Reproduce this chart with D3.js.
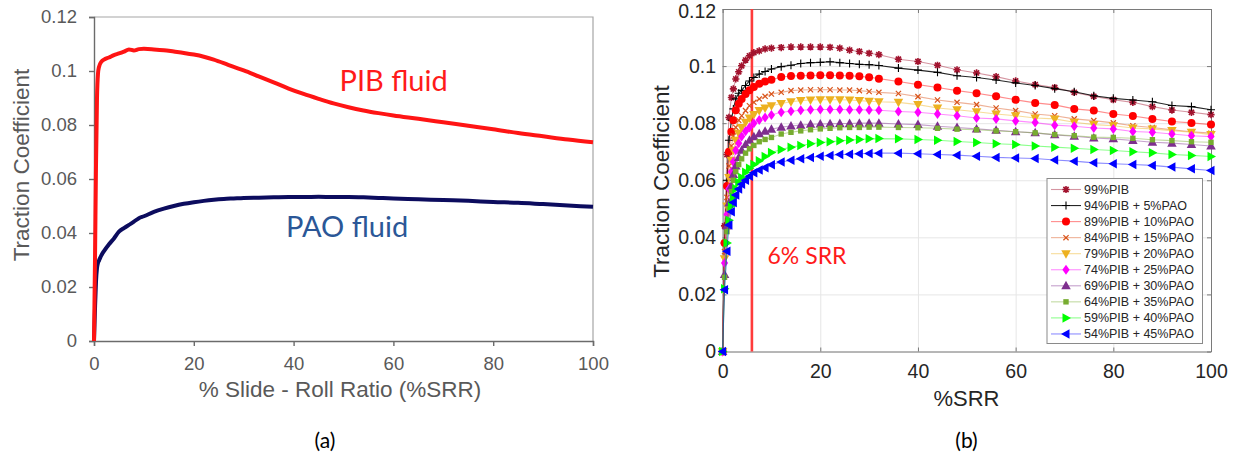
<!DOCTYPE html>
<html>
<head>
<meta charset="utf-8">
<script src="https://cdn.jsdelivr.net/npm/d3@7"></script>
<style>
  body { margin: 0; background: #fff; }
  svg { display: block; }
</style>
</head>
<body>
<svg id="fig" width="1237" height="456"></svg>
<script>
// ---------- Panel (a): neat fluids ----------
const srrA = [0, 0.2, 0.4, 0.6, 0.8, 1, 1.5, 2, 3, 4, 5, 6, 7, 8, 9, 10,
  12, 14, 16, 18, 20, 22, 24, 26, 28, 30, 33, 36, 39, 42, 45, 48, 51, 54, 57,
  60, 65, 70, 75, 80, 85, 90, 95, 100];
const pibFluid = [0, 0.03, 0.065, 0.09, 0.099, 0.1015, 0.1035, 0.1042, 0.105, 0.1059, 0.1065, 0.1072, 0.108, 0.1076, 0.1081, 0.1082,
  0.108, 0.1077, 0.1072, 0.1067, 0.1061, 0.1053, 0.1042, 0.1029, 0.1015, 0.1002, 0.098, 0.0958, 0.0935, 0.0915, 0.0897, 0.088, 0.0866, 0.0854, 0.0844,
  0.0835, 0.0823, 0.081, 0.0797, 0.0784, 0.077, 0.0758, 0.0746, 0.0736];
const paoFluid = [0, 0.012, 0.022, 0.027, 0.029, 0.0298, 0.0318, 0.0333, 0.0358, 0.038, 0.0405, 0.0418, 0.043, 0.0442, 0.0455, 0.0462,
  0.0478, 0.049, 0.05, 0.0508, 0.0514, 0.0519, 0.0523, 0.0526, 0.0528, 0.053, 0.0531, 0.0532, 0.0533, 0.0533, 0.0534, 0.0533, 0.0533, 0.0532, 0.053,
  0.0528, 0.0525, 0.0522, 0.0519, 0.0515, 0.0512, 0.0507, 0.0502, 0.0497];

// ---------- Panel (b): PIB/PAO blends ----------
const srrB = [0, 0.4, 0.9, 1.3, 1.8, 2.2, 2.7, 3.3, 3.9, 4.7, 5.5, 6.4, 7.5, 8.7, 10,
  12, 14, 16, 18, 20, 22, 24, 26, 28, 30, 32,
  36, 40, 44, 48, 52, 56, 60, 64, 68, 72, 76, 80, 84, 88, 92, 96, 100];
const pib99 = [0, 0.044, 0.069, 0.082, 0.089, 0.092, 0.0955, 0.098, 0.1001, 0.1021, 0.1036, 0.1047, 0.1053, 0.106, 0.1063,
  0.1065, 0.1067, 0.1067, 0.1067, 0.1067, 0.1066, 0.1063, 0.1056, 0.1051, 0.1045, 0.104,
  0.1024, 0.1016, 0.1003, 0.0987, 0.0976, 0.0963, 0.0948, 0.0935, 0.0925, 0.0908, 0.0894, 0.0882, 0.0873, 0.0858, 0.0846, 0.0838, 0.083];
const pib94 = [0, 0.038, 0.06, 0.074, 0.081, 0.085, 0.0885, 0.0905, 0.0915, 0.0932, 0.0948, 0.096, 0.0972, 0.0981, 0.099,
  0.0998, 0.1003, 0.1009, 0.1012, 0.1013, 0.1015, 0.1012, 0.1009, 0.1006, 0.1005, 0.1002,
  0.0993, 0.0986, 0.0978, 0.0966, 0.096, 0.0951, 0.0941, 0.0932, 0.0921, 0.091, 0.0896, 0.0887, 0.0881, 0.0875, 0.0862, 0.0858, 0.0847];
const pib89 = [0, 0.038, 0.058, 0.07, 0.077, 0.081, 0.0845, 0.0868, 0.0885, 0.0902, 0.0915, 0.0927, 0.0938, 0.0946, 0.0952,
  0.0962, 0.0965, 0.0966, 0.0967, 0.0968, 0.0968, 0.0967, 0.0966, 0.0964, 0.0961, 0.0956,
  0.0946, 0.0935, 0.0925, 0.0914, 0.0905, 0.0894, 0.0882, 0.0871, 0.0864, 0.085, 0.0844, 0.0832, 0.0825, 0.0815, 0.0806, 0.0801, 0.0795];
const pib84 = [0, 0.035, 0.054, 0.065, 0.072, 0.0755, 0.0785, 0.081, 0.0826, 0.0844, 0.0861, 0.0873, 0.0885, 0.0894, 0.0902,
  0.0908, 0.0914, 0.0916, 0.0917, 0.0917, 0.0917, 0.0916, 0.0916, 0.0914, 0.0911, 0.0908,
  0.0904, 0.0893, 0.0881, 0.0873, 0.0865, 0.0853, 0.0844, 0.0832, 0.0826, 0.0815, 0.0809, 0.0801, 0.0791, 0.0785, 0.0777, 0.077, 0.0765];
const pib79 = [0, 0.0325, 0.051, 0.061, 0.067, 0.0705, 0.074, 0.0765, 0.0785, 0.0803, 0.0818, 0.083, 0.0844, 0.0853, 0.0861,
  0.0869, 0.0875, 0.0879, 0.0881, 0.0882, 0.0882, 0.0882, 0.0881, 0.0879, 0.0877, 0.0875,
  0.0873, 0.0865, 0.0853, 0.0847, 0.084, 0.0832, 0.0826, 0.0818, 0.0815, 0.0803, 0.0795, 0.0791, 0.0783, 0.078, 0.0774, 0.0768, 0.076];
const pib74 = [0, 0.031, 0.048, 0.057, 0.063, 0.0665, 0.0705, 0.073, 0.0753, 0.0772, 0.0785, 0.08, 0.0811, 0.082, 0.0829,
  0.0838, 0.0842, 0.0845, 0.0847, 0.0848, 0.0848, 0.0848, 0.0847, 0.0847, 0.0846, 0.0845,
  0.0841, 0.0838, 0.0832, 0.0826, 0.0818, 0.0815, 0.0808, 0.0802, 0.0793, 0.0789, 0.0783, 0.078, 0.0771, 0.0768, 0.0762, 0.0756, 0.0753];
const pib69 = [0, 0.027, 0.044, 0.052, 0.058, 0.062, 0.065, 0.068, 0.0705, 0.0725, 0.074, 0.0752, 0.0763, 0.0772, 0.0779,
  0.0786, 0.079, 0.0793, 0.0796, 0.0797, 0.0798, 0.0799, 0.0799, 0.08, 0.08, 0.08,
  0.0797, 0.0795, 0.0789, 0.0785, 0.078, 0.0775, 0.077, 0.0766, 0.0759, 0.0754, 0.0748, 0.0745, 0.0739, 0.0733, 0.073, 0.0725, 0.072];
const pib64 = [0, 0.026, 0.042, 0.05, 0.056, 0.06, 0.063, 0.0655, 0.0675, 0.0695, 0.071, 0.0722, 0.0735, 0.0743, 0.075,
  0.0762, 0.0768, 0.0773, 0.0777, 0.078, 0.0782, 0.0784, 0.0785, 0.0785, 0.0786, 0.0786,
  0.0785, 0.0784, 0.0782, 0.0779, 0.0777, 0.0773, 0.077, 0.0766, 0.076, 0.0756, 0.0751, 0.075, 0.0747, 0.0742, 0.0739, 0.0735, 0.0733];
const pib59 = [0, 0.022, 0.038, 0.046, 0.051, 0.054, 0.057, 0.0592, 0.061, 0.0628, 0.0642, 0.0655, 0.0668, 0.0683, 0.0697,
  0.0708, 0.0716, 0.0722, 0.0728, 0.0732, 0.0735, 0.0738, 0.0741, 0.0743, 0.0745, 0.0746,
  0.0745, 0.0743, 0.074, 0.0736, 0.0732, 0.0728, 0.0725, 0.072, 0.0716, 0.0712, 0.0708, 0.0704, 0.07, 0.0696, 0.069, 0.0687, 0.0683];
const pib54 = [0, 0.0216, 0.0351, 0.0443, 0.049, 0.0522, 0.0548, 0.0569, 0.0586, 0.06, 0.0614, 0.0626, 0.0636, 0.0644, 0.0654,
  0.0664, 0.067, 0.0675, 0.068, 0.0684, 0.0687, 0.069, 0.0691, 0.0693, 0.0694, 0.0695,
  0.0695, 0.0693, 0.069, 0.0688, 0.0684, 0.068, 0.0678, 0.0676, 0.0671, 0.0667, 0.0661, 0.0658, 0.0655, 0.0652, 0.0646, 0.064, 0.0634];

const blendNames = ["99%PIB", "94%PIB + 5%PAO", "89%PIB + 10%PAO", "84%PIB + 15%PAO", "79%PIB + 20%PAO",
  "74%PIB + 25%PAO", "69%PIB + 30%PAO", "64%PIB + 35%PAO", "59%PIB + 40%PAO", "54%PIB + 45%PAO"];
const blendValues = [pib99, pib94, pib89, pib84, pib79, pib74, pib69, pib64, pib59, pib54];
const blendMarkers = ["asterisk", "plus", "circle", "cross", "triDown", "diamond", "triUp", "square", "triRight", "triLeft"];
const blendColors = ["#a2142f", "#000000", "#ff0000", "#d95319", "#edb120", "#ff00ff", "#7e2f8e", "#77ac30", "#00ff00", "#0000ff"];

const yTicks = [0, 0.02, 0.04, 0.06, 0.08, 0.1, 0.12];
const yTickLabels = ["0", "0.02", "0.04", "0.06", "0.08", "0.1", "0.12"];
const xTicks = [0, 20, 40, 60, 80, 100];
const xTickLabels = ["0", "20", "40", "60", "80", "100"];
const markedSrr = 6;

const svg = d3.select("#fig");
const sans = "'Liberation Sans', Arial, sans-serif";
const humanist = "Lato, 'Open Sans', sans-serif";

// ================= Panel (a) =================
const A = { left: 94, right: 593, top: 17, bottom: 341 };
const xA = d3.scaleLinear().domain([0, 100]).range([A.left, A.right]);
const yA = d3.scaleLinear().domain([0, 0.12]).range([A.bottom, A.top]);
const gA = svg.append("g");

// light frame on top and right
gA.append("path")
  .attr("d", `M${A.left},${A.top}H${A.right}V${A.bottom}`)
  .attr("fill", "none").attr("stroke", "#a6a6a6").attr("stroke-width", 1.2);

const axA_y = gA.append("g").attr("transform", `translate(${A.left},0)`)
  .call(d3.axisLeft(yA).tickValues(yTicks).tickFormat((d, i) => yTickLabels[i]).tickSize(5).tickPadding(12));
const axA_x = gA.append("g").attr("transform", `translate(0,${A.bottom})`)
  .call(d3.axisBottom(xA).tickValues(xTicks).tickFormat((d, i) => xTickLabels[i]).tickSize(5).tickPadding(11));
[axA_y, axA_x].forEach(ax => {
  ax.selectAll("path, line").attr("stroke", "#6b6b6b").attr("stroke-width", 1.4);
  ax.selectAll("text").attr("fill", "#595959").style("font-family", sans).style("font-size", "18.5px");
});

const lineA = d3.line().x((d, i) => xA(srrA[i])).y(d => yA(d)).curve(d3.curveMonotoneX);
gA.append("path").datum(paoFluid).attr("d", lineA)
  .attr("fill", "none").attr("stroke", "#0c0c5e").attr("stroke-width", 4).attr("stroke-linejoin", "round");
gA.append("path").datum(pibFluid).attr("d", lineA)
  .attr("fill", "none").attr("stroke", "#ff1414").attr("stroke-width", 4).attr("stroke-linejoin", "round");

gA.append("text").attr("x", 340).attr("y", 397).attr("text-anchor", "middle")
  .attr("fill", "#595959").style("font-family", sans).style("font-size", "22.5px")
  .text("% Slide - Roll Ratio (%SRR)");
gA.append("text").attr("transform", "translate(29,165) rotate(-90)").attr("text-anchor", "middle")
  .attr("fill", "#595959").style("font-family", sans).style("font-size", "22.5px")
  .text("Traction Coefficient");
gA.append("text").attr("x", 339.5).attr("y", 90.5)
  .attr("fill", "#ff1a1a").style("font-family", humanist).style("font-size", "29px")
  .text("PIB fluid");
gA.append("text").attr("x", 286).attr("y", 236.5)
  .attr("fill", "#2b5797").style("font-family", humanist).style("font-size", "29px")
  .text("PAO fluid");
gA.append("text").attr("x", 325).attr("y", 448).attr("text-anchor", "middle")
  .attr("fill", "#000").style("font-family", humanist).style("font-size", "21px")
  .text("(a)");

// ================= Panel (b) =================
const B = { left: 722.6, right: 1211, top: 9, bottom: 351.5 };
const xB = d3.scaleLinear().domain([0, 100]).range([B.left, B.right]);
const yB = d3.scaleLinear().domain([0, 0.12]).range([B.bottom, B.top]);
const gB = svg.append("g");
const plotW = B.right - B.left, plotH = B.bottom - B.top;

// grid
gB.append("g").attr("transform", `translate(0,${B.bottom})`)
  .call(d3.axisBottom(xB).tickValues(xTicks).tickSize(-plotH).tickFormat(""))
  .call(g => g.select(".domain").remove())
  .selectAll("line").attr("stroke", "#e6e6e6").attr("stroke-width", 1);
gB.append("g").attr("transform", `translate(${B.left},0)`)
  .call(d3.axisLeft(yB).tickValues(yTicks).tickSize(-plotW).tickFormat(""))
  .call(g => g.select(".domain").remove())
  .selectAll("line").attr("stroke", "#e6e6e6").attr("stroke-width", 1);

// box with inward ticks
const frameColor = "#7a7a7a";
const boxAxes = [
  gB.append("g").attr("transform", `translate(0,${B.bottom})`)
    .call(d3.axisBottom(xB).tickValues(xTicks).tickFormat((d, i) => xTickLabels[i]).tickSizeInner(-4).tickSizeOuter(0).tickPadding(13)),
  gB.append("g").attr("transform", `translate(${B.left},0)`)
    .call(d3.axisLeft(yB).tickValues(yTicks).tickFormat((d, i) => yTickLabels[i]).tickSizeInner(-4).tickSizeOuter(0).tickPadding(6.5)),
  gB.append("g").attr("transform", `translate(0,${B.top})`)
    .call(d3.axisTop(xB).tickValues(xTicks).tickFormat("").tickSizeInner(-4).tickSizeOuter(0)),
  gB.append("g").attr("transform", `translate(${B.right},0)`)
    .call(d3.axisRight(yB).tickValues(yTicks).tickFormat("").tickSizeInner(-4).tickSizeOuter(0))
];
boxAxes.forEach(ax => {
  ax.selectAll("path, line").attr("stroke", frameColor).attr("stroke-width", 1);
  ax.selectAll("text").attr("fill", "#262626").style("font-family", sans).style("font-size", "19.5px");
});
// keep the topmost y label inside the canvas
boxAxes[1].selectAll(".tick text").filter(d => d === 0.12).attr("dy", "0.46em");

// 6% SRR marker line
gB.append("line")
  .attr("x1", xB(markedSrr)).attr("x2", xB(markedSrr))
  .attr("y1", yB(0.12)).attr("y2", yB(0))
  .attr("stroke", "#ff3b3b").attr("stroke-width", 2.6);
gB.append("text").attr("x", 767.5).attr("y", 263.5)
  .attr("fill", "#ff1a1a").style("font-family", humanist).style("font-size", "23px")
  .text(`${markedSrr}% SRR`);

// marker shapes
function tri(h) {
  return `M0,${-h}L${h * 0.95},${h * 0.7}L${-h * 0.95},${h * 0.7}Z`;
}
function drawMarker(sel, kind, color) {
  switch (kind) {
    case "asterisk":
      sel.append("path").attr("d", "M-3.6,0H3.6M0,-3.6V3.6M-2.6,-2.6L2.6,2.6M-2.6,2.6L2.6,-2.6")
        .attr("stroke", color).attr("stroke-width", 1.6).attr("fill", "none");
      sel.append("circle").attr("r", 1.8).attr("fill", color);
      break;
    case "plus":
      sel.append("path").attr("d", "M-4,0H4M0,-4V4")
        .attr("stroke", color).attr("stroke-width", 1.1).attr("fill", "none");
      break;
    case "circle":
      sel.append("circle").attr("r", 4).attr("fill", color);
      break;
    case "cross":
      sel.append("path").attr("d", "M-2.6,-2.6L2.6,2.6M-2.6,2.6L2.6,-2.6")
        .attr("stroke", color).attr("stroke-width", 1.2).attr("fill", "none");
      break;
    case "triDown":
      sel.append("path").attr("d", tri(5)).attr("transform", "rotate(180)").attr("fill", color);
      break;
    case "diamond":
      sel.append("path").attr("d", "M0,-5L3.6,0L0,5L-3.6,0Z").attr("fill", color);
      break;
    case "triUp":
      sel.append("path").attr("d", tri(5)).attr("fill", color);
      break;
    case "square":
      sel.append("rect").attr("x", -2.7).attr("y", -2.7).attr("width", 5.4).attr("height", 5.4).attr("fill", color);
      break;
    case "triRight":
      sel.append("path").attr("d", tri(5)).attr("transform", "rotate(90)").attr("fill", color);
      break;
    case "triLeft":
      sel.append("path").attr("d", tri(5)).attr("transform", "rotate(-90)").attr("fill", color);
      break;
  }
}

const clipId = "plotClipB";
svg.append("defs").append("clipPath").attr("id", clipId)
  .append("rect").attr("x", B.left - 6).attr("y", B.top).attr("width", plotW + 12).attr("height", plotH + 6);

const lineB = d3.line().x((d, i) => xB(srrB[i])).y(d => yB(d));
const seriesLayer = gB.append("g").attr("clip-path", `url(#${clipId})`);
blendValues.forEach((vals, s) => {
  const color = blendColors[s];
  const g = seriesLayer.append("g");
  g.append("path").datum(vals).attr("d", lineB)
    .attr("fill", "none").attr("stroke", color)
    .attr("stroke-opacity", s === 1 ? 0.85 : 0.45).attr("stroke-width", 1.1);
  g.selectAll("g.mk").data(vals).join("g").attr("class", "mk")
    .attr("transform", (d, i) => `translate(${xB(srrB[i])},${yB(d)})`)
    .each(function () { drawMarker(d3.select(this), blendMarkers[s], color); });
});

// legend
const leg = gB.append("g");
leg.append("rect").attr("x", 1047).attr("y", 178.5).attr("width", 155.5).attr("height", 165)
  .attr("fill", "#fff").attr("stroke", "#8a8a8a").attr("stroke-width", 1);
blendNames.forEach((name, s) => {
  const y = 189.5 + s * 16.05;
  const color = blendColors[s];
  leg.append("line").attr("x1", 1051).attr("x2", 1081).attr("y1", y).attr("y2", y)
    .attr("stroke", color).attr("stroke-opacity", s === 1 ? 0.85 : 0.45).attr("stroke-width", 1.1);
  drawMarker(leg.append("g").attr("transform", `translate(1066,${y})`), blendMarkers[s], color);
  leg.append("text").attr("x", 1084).attr("y", y).attr("dy", "0.35em")
    .attr("fill", "#262626").style("font-family", sans).style("font-size", "12.5px")
    .text(name);
});

gB.append("text").attr("x", 966.5).attr("y", 406).attr("text-anchor", "middle")
  .attr("fill", "#262626").style("font-family", sans).style("font-size", "22px")
  .text("%SRR");
gB.append("text").attr("transform", "translate(669,181.5) rotate(-90)").attr("text-anchor", "middle")
  .attr("fill", "#262626").style("font-family", sans).style("font-size", "22.5px")
  .text("Traction Coefficient");
gB.append("text").attr("x", 966.5).attr("y", 448).attr("text-anchor", "middle")
  .attr("fill", "#000").style("font-family", humanist).style("font-size", "21px")
  .text("(b)");
</script>
</body>
</html>
